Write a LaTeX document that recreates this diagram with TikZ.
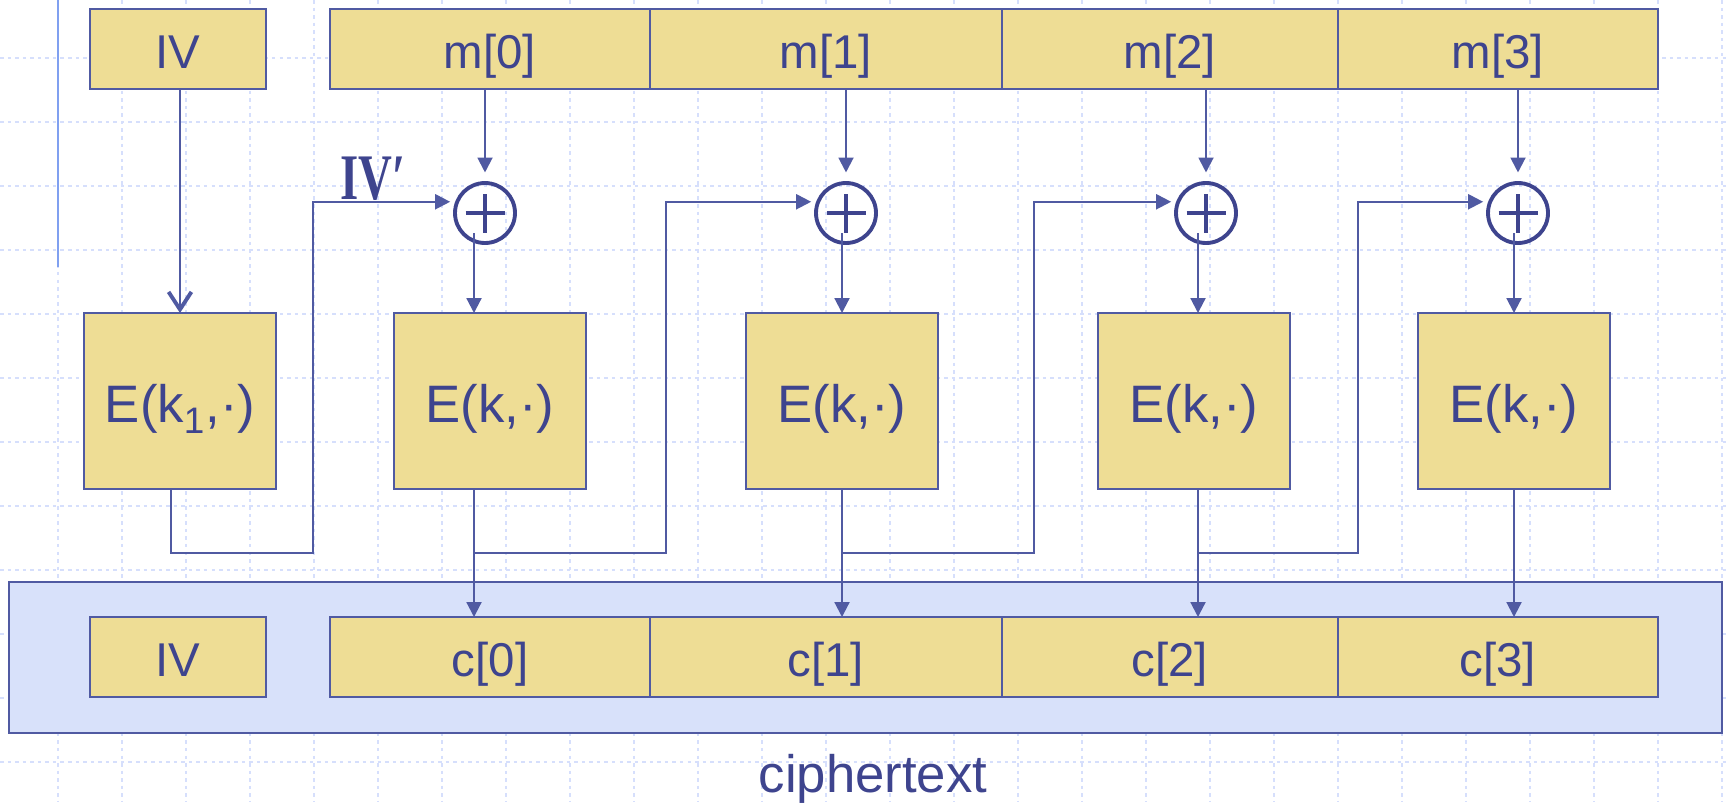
\documentclass[tikz,border=0pt]{standalone}
\usepackage{fontspec}
\setmainfont{Liberation Sans}
\newfontfamily\primefont{Liberation Serif}
\usetikzlibrary{arrows.meta,positioning}

\definecolor{inkblue}{RGB}{62,68,142}
\definecolor{wireblue}{RGB}{80,90,162}
\definecolor{blockgold}{RGB}{238,221,149}
\definecolor{bandblue}{RGB}{216,225,250}
\definecolor{gridblue}{RGB}{214,223,252}
\definecolor{accentblue}{RGB}{128,160,240}

\begin{document}
\begin{tikzpicture}[x=0.02cm, y=-0.02cm,
	cell/.style={draw=wireblue, fill=blockgold, line width=1.3pt, text=inkblue, font=\fontsize{27}{30}\selectfont,
		minimum height=1.6cm, inner sep=0pt, outer sep=0pt, text height=22.7pt, text depth=0pt},
	enc/.style={cell, minimum width=3.84cm, minimum height=3.52cm, font=\fontsize{30}{34}\selectfont, text height=25pt},
	xor/.style={circle, draw=inkblue, line width=2.2pt, minimum size=1.2cm, inner sep=0pt, outer sep=0pt,
		path picture={\draw[inkblue, line width=2.6pt]
			([xshift=-0.39cm]path picture bounding box.center) -- ([xshift=0.39cm]path picture bounding box.center)
			([yshift=-0.39cm]path picture bounding box.center) -- ([yshift=0.39cm]path picture bounding box.center);}},
	flow/.style={draw=wireblue, line width=1.2pt, -{Triangle[length=8.5pt,width=8.5pt]}},
	gridline/.style={draw=gridblue, line width=0.9pt, dash pattern=on 2pt off 2.3pt}]
	\useasboundingbox (0,0) rectangle (1727,802);
	% slide grid
	\foreach \gx in {58,122,...,1722}
		\draw[gridline] (\gx,0) -- (\gx,802);
	\foreach \gy in {58,122,...,762}
		\draw[gridline] (0,\gy) -- (1727,\gy);
	\draw[accentblue, line width=1.2pt] (58,0) -- (58,267);
	% ciphertext band
	\node[draw=wireblue, fill=bandblue, line width=1.3pt, minimum width=34.26cm, minimum height=3.02cm, inner sep=0pt] (band) at (865.5,657.5) {};
	\node[text=inkblue, font=\fontsize{30}{34}\selectfont, anchor=base] (ctext) at (873,792) {ciphertext};
	% plaintext
	\node[cell, minimum width=3.52cm] (ivtop) at (178,49) {IV};
	\node[cell, minimum width=6.4cm] (m0) at (490,49) {m[0]};
	\node[cell, minimum width=7.04cm, right=0pt of m0] (m1) {m[1]};
	\node[cell, minimum width=6.72cm, right=0pt of m1] (m2) {m[2]};
	\node[cell, minimum width=6.4cm, right=0pt of m2] (m3) {m[3]};
	% xor gates
	\node[xor] (x0) at (485,213) {};
	\node[xor] (x1) at (846,213) {};
	\node[xor] (x2) at (1206,213) {};
	\node[xor] (x3) at (1518,213) {};
	% block cipher
	\node[enc] (ek1) at (180,401) {E(k\textsubscript{1},·)};
	\node[enc] (e0) at (490,401) {E(k,·)};
	\node[enc] (e1) at (842,401) {E(k,·)};
	\node[enc] (e2) at (1194,401) {E(k,·)};
	\node[enc] (e3) at (1514,401) {E(k,·)};
	% ciphertext
	\node[cell, minimum width=3.52cm] (ivbot) at (178,657) {IV};
	\node[cell, minimum width=6.4cm] (c0) at (490,657) {c[0]};
	\node[cell, minimum width=7.04cm, right=0pt of c0] (c1) {c[1]};
	\node[cell, minimum width=6.72cm, right=0pt of c1] (c2) {c[2]};
	\node[cell, minimum width=6.4cm, right=0pt of c2] (c3) {c[3]};
	% wire columns
	\coordinate (kiv) at (171,0);
	\coordinate (k0) at (474,0);
	\coordinate (k1) at (842,0);
	\coordinate (k2) at (1198,0);
	\coordinate (k3) at (1514,0);
	\coordinate (bus) at (0,553);
	\coordinate (f0) at (313,553);
	\coordinate (f1) at (666,553);
	\coordinate (f2) at (1034,553);
	\coordinate (f3) at (1358,553);
	% IV into E(k1)
	\draw[wireblue, line width=1.2pt, -{Straight Barb[length=10pt,width=13pt,line width=2.2pt]}] (ivtop.south -| ek1) -- (ek1.north);
	\foreach \i in {0,...,3} {
		\draw[flow, shorten >=6pt] (m\i.south -| x\i) -- (x\i.north);
		\draw[flow, shorten <=-5.5pt] (k\i |- x\i.south) -- (k\i |- e\i.north);
		\draw[flow] (k\i |- e\i.south) -- (k\i |- c\i.north);
	}
	% chaining
	\draw[flow, shorten >=4pt] (kiv |- ek1.south) |- (f0) |- (x0.158);
	\draw[flow, shorten >=4pt] (k0 |- bus) -- (f1) |- (x1.158);
	\draw[flow, shorten >=4pt] (k1 |- bus) -- (f2) |- (x2.158);
	\draw[flow, shorten >=4pt] (k2 |- bus) -- (f3) |- (x3.158);
	\node[text=inkblue, font=\primefont\bfseries\fontsize{37}{40}\selectfont, anchor=base west, inner sep=0pt] (ivprime) at (340,199) {\scalebox{0.72}[1]{IV′}};
\end{tikzpicture}
\end{document}
